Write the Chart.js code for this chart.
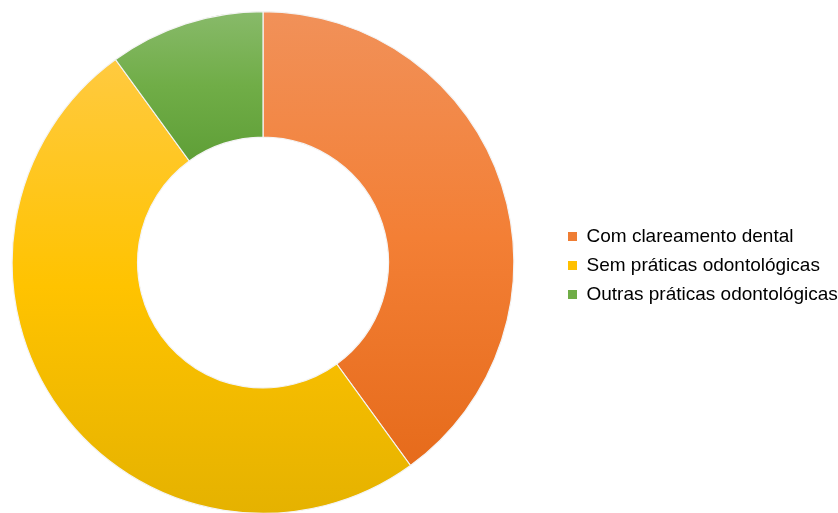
<!DOCTYPE html>
<html lang="pt">
<head>
    <meta charset="UTF-8">
    <title>Práticas odontológicas</title>
    <style>
        html, body {
            margin: 0;
            padding: 0;
            background-color: #ffffff;
            overflow: hidden;
        }
        .chart-container {
            position: relative;
            margin-left: -32px;
            width: 870px;
            height: 514px;
        }
    </style>
    <script src="https://cdn.jsdelivr.net/npm/chart.js"></script>
</head>
<body>
    <div class="chart-container">
        <canvas id="chart"></canvas>
    </div>
    <script>
        const categories = ['Com clareamento dental', 'Sem práticas odontológicas', 'Outras práticas odontológicas'];
        const shares = [40, 50, 10];

        // cores: topo, meio, base de cada fatia
        const sliceColors = [
            ['#f19159', '#f37f35', '#e66b1b'],
            ['#ffca40', '#ffc300', '#e5b200'],
            ['#88ba6a', '#70ad47', '#5f9f37']
        ];
        const legendColors = ['#ef7d33', '#ffc000', '#70ad47'];

        // altura vertical de cada fatia, para o degradê cobrir só a fatia
        function sliceExtent(chart, index) {
            const area = chart.chartArea;
            const cy = (area.top + area.bottom) / 2;
            const R = Math.min(area.right - area.left, area.bottom - area.top) / 2;
            const r = R * 0.5;
            const total = shares.reduce((a, b) => a + b, 0);
            let start = 0;
            for (let i = 0; i < index; i++) start += shares[i] / total * Math.PI * 2;
            const end = start + shares[index] / total * Math.PI * 2;
            const ys = [];
            [start, end].forEach(a => {
                ys.push(cy - R * Math.cos(a));
                ys.push(cy - r * Math.cos(a));
            });
            if (start <= 0.0001 || end >= Math.PI * 2 - 0.0001) ys.push(cy - R);
            if (start <= Math.PI && end >= Math.PI) ys.push(cy + R);
            return [Math.min(...ys), Math.max(...ys)];
        }

        function sliceGradient(context) {
            const chart = context.chart;
            if (!chart.chartArea) return legendColors[context.dataIndex];
            const [y0, y1] = sliceExtent(chart, context.dataIndex);
            const g = chart.ctx.createLinearGradient(0, y0, 0, y1);
            const c = sliceColors[context.dataIndex];
            g.addColorStop(0, c[0]);
            g.addColorStop(0.5, c[1]);
            g.addColorStop(1, c[2]);
            return g;
        }

        new Chart(document.getElementById('chart'), {
            type: 'doughnut',
            data: {
                labels: categories,
                datasets: [{
                    data: shares,
                    backgroundColor: sliceGradient,
                    borderColor: '#f4f4f4',
                    borderWidth: 1.2
                }]
            },
            options: {
                responsive: true,
                maintainAspectRatio: false,
                animation: false,
                cutout: '50%',
                layout: {
                    padding: { left: 0, top: 11, right: 0, bottom: 0 }
                },
                plugins: {
                    tooltip: { enabled: false },
                    legend: {
                        position: 'right',
                        maxWidth: 280,
                        // título vazio só para baixar um pouco as entradas
                        title: { display: true, text: '', color: '#000000', font: { size: 1 }, padding: 2.4 },
                        labels: {
                            boxWidth: 9,
                            boxHeight: 9,
                            padding: 10,
                            color: '#000000',
                            font: { family: "'Liberation Sans', Arial, sans-serif", size: 19 },
                            generateLabels: chart => categories.map((text, i) => ({
                                text: text,
                                fillStyle: legendColors[i],
                                strokeStyle: legendColors[i],
                                fontColor: '#000000',
                                lineWidth: 0,
                                hidden: false,
                                index: i
                            }))
                        }
                    }
                }
            }
        });
    </script>
</body>
</html>
